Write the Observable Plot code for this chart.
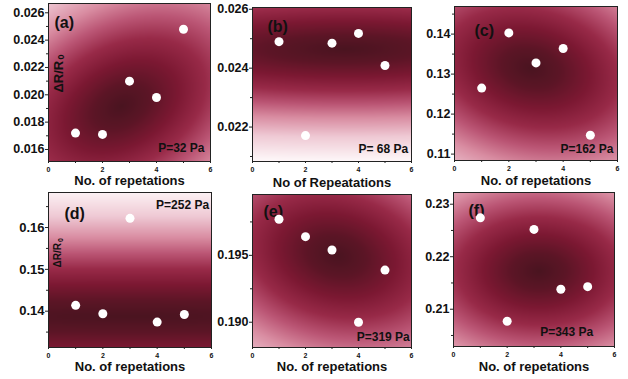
<!DOCTYPE html>
<html>
<head>
<meta charset="utf-8">
<script src="https://cdn.jsdelivr.net/npm/d3@7"></script>
<script src="https://cdn.jsdelivr.net/npm/@observablehq/plot@0.6"></script>
<style>
  html, body { margin: 0; padding: 0; background: #fff; }
  #chart { position: relative; width: 628px; height: 379px; overflow: hidden; background: #fff; }
</style>
</head>
<body>
<div id="chart"></div>
<script>
// ---- data ----
const repetitions = [1, 2, 3, 4, 5];
const valuesA = [0.0172, 0.0171, 0.0210, 0.0198, 0.0248];
const valuesB = [0.02490, 0.02171, 0.02485, 0.02518, 0.02409];
const valuesC = [0.1265, 0.1403, 0.1328, 0.1364, 0.1147];
const valuesD = [0.1414, 0.1394, 0.1622, 0.1374, 0.1392];
const valuesE = [0.1977, 0.1964, 0.1954, 0.1900, 0.1939];
const valuesF = [0.2274, 0.2077, 0.2252, 0.2138, 0.2143];

const panelLetters = ["(a)", "(b)", "(c)", "(d)", "(e)", "(f)"];
const pressureLabels = ["P=32 Pa", "P= 68 Pa", "P=162 Pa", "P=252 Pa", "P=319 Pa", "P=343 Pa"];
const xTitles = ["No. of repetations", "No of Repeatations", "No. of repetations",
                 "No. of repetations", "No. of repetations", "No. of repetations"];
const yLabelMain = "ΔR/R";
const yLabelSub = "0";

const xTicks = [0, 2, 4, 6];
const xMinorTicks = [1, 3, 5];
const yDomains = [[0.01512, 0.02668], [0.02083, 0.02606], [0.1084, 0.1469],
                  [0.13132, 0.16837], [0.18811, 0.19955], [0.2029, 0.23223]];
const yTicks = [[0.016, 0.018, 0.020, 0.022, 0.024, 0.026], [0.022, 0.024, 0.026],
                [0.11, 0.12, 0.13, 0.14], [0.14, 0.15, 0.16], [0.190, 0.195], [0.21, 0.22, 0.23]];
const yMinorTicks = [[0.017, 0.019, 0.021, 0.023, 0.025], [0.021, 0.023, 0.025],
                     [0.115, 0.125, 0.135, 0.145], [0.135, 0.145, 0.155, 0.165],
                     [0.1925, 0.1975], [0.205, 0.215, 0.225]];
const yFormats = [".3f", ".3f", ".2f", ".2f", ".3f", ".2f"];

// fitted surface shown behind the points (centre, half-axes in frame fractions, tilt in degrees)
const surfaceCenters = [[0.45, 0.35], [0.58, 0.73], [0.47, 0.60], [0.5, 0.20], [0.53, 0.60], [0.53, 0.49]];
const surfaceAxes = [[0.62, 0.42], [1.6, 0.30], [0.60, 0.42], [6, 0.34], [0.62, 0.44], [0.56, 0.39]];
const surfaceTilts = [30, 0, -15, 0, -15, 0];

const colorStops = [0, 0.3, 0.6, 0.9, 1.2, 1.5, 1.9, 2.4];
const colorRamp = ["#4a1420", "#5c1526", "#7b1832", "#982a48", "#bb5675", "#d98da2", "#efc9d4", "#fdf5f7"];

// ---- layout ----
const frames = [
  {x: 48, y: 3, w: 162, h: 158},
  {x: 252, y: 7, w: 159, h: 154},
  {x: 454, y: 6, w: 163, h: 154},
  {x: 48, y: 192, w: 163, h: 155},
  {x: 252, y: 194, w: 159, h: 153},
  {x: 453, y: 192, w: 161, h: 154}
];
const letterPos = [[6, 19.5], [15, 19.5], [20, 24], [16, 21], [11, 17], [15, 18.5]];
const pressurePos = [["bottom-right", -6, -13.3], ["bottom-right", -3.4, -12], ["bottom-right", -4, -11.7],
                     ["top-right", -2.4, 12.7], ["bottom-right", -1.7, -10.6], ["bottom-right", -21.3, -14.6]];
const titleDy = [19.5, 21, 20.5, 19.5, 19, 20.5];
const yLabelPos = {
  0: {dx: 10, dy: 89, size: 13, subDx: 13, subDy: 56, subSize: 9},
  3: {dx: 9.5, dy: 75, size: 10, subDx: 12, subDy: 49.5, subSize: 7}
};

const seriesValues = [valuesA, valuesB, valuesC, valuesD, valuesE, valuesF];
const mL = 48, mR = 10, mT = 3, mB = 32;
const font = "'Liberation Sans', Arial, Helvetica, sans-serif";
const chart = document.getElementById("chart");

seriesValues.forEach((vals, i) => {
  const f = frames[i];
  const [y0, y1] = yDomains[i];
  const [cx, cy] = surfaceCenters[i];
  const [ax, ay] = surfaceAxes[i];
  const th = surfaceTilts[i] * Math.PI / 180;
  const c = Math.cos(th), s = Math.sin(th);
  const surface = (x, y) => {
    const du = x / 6 - cx, dv = (y - y0) / (y1 - y0) - cy;
    const u = du * c + dv * s, v = -du * s + dv * c;
    return Math.sqrt((u / ax) ** 2 + (v / ay) ** 2);
  };
  const pts = repetitions.map((r, k) => ({r, v: vals[k]}));
  const marks = [
    Plot.raster({fill: surface, x1: 0, x2: 6, y1: y0, y2: y1, pixelSize: 1}),
    Plot.axisY({ticks: yTicks[i], tickFormat: d3.format(yFormats[i]), tickSize: 3, tickPadding: 1,
                fontSize: i === 3 ? 13 : 12.5, fontWeight: "bold", label: null, stroke: "#222"}),
    Plot.axisY({ticks: yMinorTicks[i], tickFormat: () => "", tickSize: 2, label: null, stroke: "#222"}),
    Plot.axisX({ticks: xTicks, tickFormat: d3.format("d"), tickSize: 2, tickPadding: 3.5,
                fontSize: 7, fontWeight: "bold", label: null, stroke: "#222"}),
    Plot.axisX({ticks: xMinorTicks, tickFormat: () => "", tickSize: 2, label: null, stroke: "#222"}),
    Plot.text([xTitles[i]], {text: d => d, frameAnchor: "bottom", dy: titleDy[i], lineAnchor: "middle",
                             fontSize: 13, fontWeight: "bold", fill: "#111"}),
    Plot.text([panelLetters[i]], {text: d => d, frameAnchor: "top-left", dx: letterPos[i][0], dy: letterPos[i][1],
                                  textAnchor: "start", lineAnchor: "middle", fontSize: 16, fontWeight: "bold", fill: "#111"}),
    Plot.text([pressureLabels[i]], {text: d => d, frameAnchor: pressurePos[i][0], dx: pressurePos[i][1], dy: pressurePos[i][2],
                                    textAnchor: "end", lineAnchor: "middle", fontSize: 12, fontWeight: "bold", fill: "#111"}),
    Plot.dot(pts, {x: "r", y: "v", r: 4.5, fill: "white", stroke: "none"}),
    Plot.frame({stroke: "#222", strokeWidth: 1})
  ];
  if (yLabelPos[i]) {
    const p = yLabelPos[i];
    marks.push(Plot.text([yLabelMain], {text: d => d, frameAnchor: "top-left", dx: p.dx, dy: p.dy, rotate: -90,
                                     textAnchor: "start", lineAnchor: "middle", fontSize: p.size, fontWeight: "bold", fill: "#111"}));
    marks.push(Plot.text([yLabelSub], {text: d => d, frameAnchor: "top-left", dx: p.subDx, dy: p.subDy, rotate: -90,
                                     textAnchor: "start", lineAnchor: "middle", fontSize: p.subSize, fontWeight: "bold", fill: "#111"}));
  }
  const svg = Plot.plot({
    width: f.w + mL + mR,
    height: f.h + mT + mB,
    marginLeft: mL, marginRight: mR, marginTop: mT, marginBottom: mB,
    x: {domain: [0, 6], label: null},
    y: {domain: [y0, y1], label: null},
    color: {type: "linear", domain: colorStops, range: colorRamp, clamp: true},
    style: {fontFamily: font, fontWeight: "bold", fontSize: "12px", color: "#111", background: "transparent", overflow: "visible"},
    marks
  });
  svg.style.position = "absolute";
  svg.style.left = (f.x - mL) + "px";
  svg.style.top = (f.y - mT) + "px";
  chart.appendChild(svg);
});
</script>
</body>
</html>
